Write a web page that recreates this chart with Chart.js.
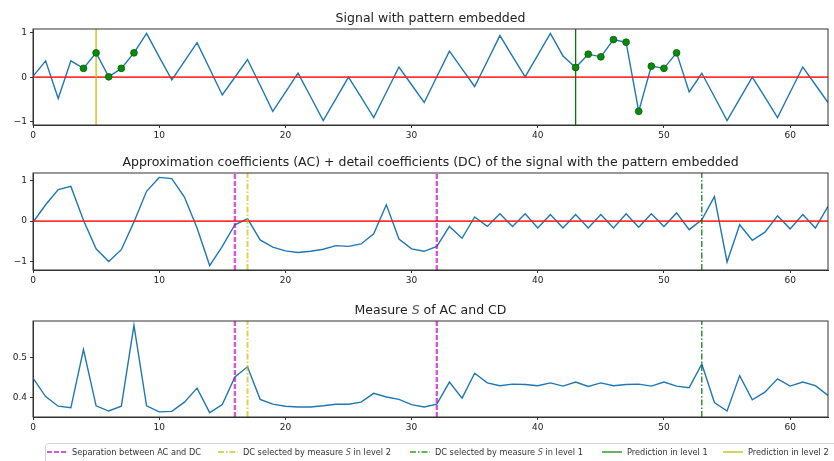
<!DOCTYPE html>
<html>
<head>
<meta charset="utf-8">
<script src="https://cdn.jsdelivr.net/npm/chart.js@4.4.1/dist/chart.umd.min.js"></script>
<style>
  html, body { margin: 0; padding: 0; background: #fff; }
  #wrap { position: relative; width: 834px; height: 461px; overflow: hidden; }
  #wrap canvas { position: absolute; left: 0; }
</style>
</head>
<body>
<div id="wrap">
  <canvas id="c1" width="834" height="145" style="top:0px"></canvas>
  <canvas id="c2" width="834" height="148" style="top:145px"></canvas>
  <canvas id="c3" width="834" height="168" style="top:293px"></canvas>
</div>
<script>
// ---- data ----
const sampleIndex = Array.from({ length: 64 }, (_, i) => i);

const signal = [
  0.02, 0.37, -0.48, 0.37, 0.20, 0.55, 0.01, 0.20, 0.55, 0.99,
  0.46, -0.06, 0.36, 0.78, 0.19, -0.40, 0.00, 0.40, -0.18, -0.77,
  -0.34, 0.09, -0.44, -0.98, -0.49, 0.00, -0.45, -0.91, -0.34, 0.23,
  -0.17, -0.57, 0.01, 0.59, 0.19, -0.21, 0.36, 0.94, 0.47, 0.01,
  0.50, 0.99, 0.48, 0.22, 0.52, 0.46, 0.85, 0.79, -0.77, 0.25,
  0.20, 0.55, -0.33, 0.09, -0.44, -0.98, -0.49, 0.00, -0.45, -0.91,
  -0.34, 0.23, -0.17, -0.57
];

// samples belonging to the embedded pattern
const patternIdx = [4, 5, 6, 7, 8, 43, 44, 45, 46, 47, 48, 49, 50, 51];

const coeffs = [
  -0.03, 0.40, 0.77, 0.85, 0.02, -0.68, -0.99, -0.70, -0.02, 0.73,
  1.07, 1.04, 0.59, -0.17, -1.09, -0.62, -0.09, 0.06, -0.46, -0.64,
  -0.73, -0.77, -0.74, -0.69, -0.60, -0.62, -0.56, -0.31, 0.40, -0.44,
  -0.68, -0.74, -0.62, -0.13, -0.42, 0.10, -0.13, 0.18, -0.13, 0.18,
  -0.17, 0.16, -0.17, 0.16, -0.17, 0.16, -0.17, 0.18, -0.15, 0.18,
  -0.13, 0.20, -0.21, 0.03, 0.60, -1.00, -0.09, -0.47, -0.27, 0.13,
  -0.19, 0.16, -0.17, 0.36
];

const measureS = [
  0.449, 0.403, 0.379, 0.375, 0.520, 0.380, 0.367, 0.379, 0.580, 0.380,
  0.365, 0.366, 0.389, 0.424, 0.363, 0.383, 0.452, 0.477, 0.396, 0.384,
  0.379, 0.377, 0.377, 0.380, 0.384, 0.384, 0.389, 0.411, 0.402, 0.396,
  0.383, 0.377, 0.384, 0.439, 0.399, 0.461, 0.437, 0.430, 0.434, 0.433,
  0.430, 0.437, 0.429, 0.439, 0.428, 0.437, 0.430, 0.433, 0.434, 0.429,
  0.439, 0.429, 0.425, 0.484, 0.388, 0.367, 0.455, 0.395, 0.414, 0.447,
  0.429, 0.439, 0.430, 0.406
];

const xTicks = [0, 10, 20, 30, 40, 50, 60];
const yTicksSignal = [-1, 0, 1];
const yTicksCoeffs = [-1, 0, 1];
const yTicksMeasure = [0.4, 0.5];

const predLevel1 = [43];
const predLevel2 = [5];
const sepAcDc = [16, 32];
const selLevel2 = [17];
const selLevel1 = [53];

const legendLabels = [
  [{ t: 'Separation between AC and DC' }],
  [{ t: 'DC selected by measure ' }, { t: 'S', it: true }, { t: ' in level 2' }],
  [{ t: 'DC selected by measure ' }, { t: 'S', it: true }, { t: ' in level 1' }],
  [{ t: 'Prediction in level 1' }],
  [{ t: 'Prediction in level 2' }]
];

// ---- styling ----
const FONT = '"DejaVu Sans", "Liberation Sans", sans-serif';
const BLUE = '#1f77b4';
const RED = 'rgba(255,20,20,0.85)';
const AXIS = '#333';
const MAGENTA = 'rgba(191,0,191,0.65)';
const YELLOW_SOFT = 'rgba(191,191,0,0.65)';
const YELLOW = '#c4c400';
const GREEN = '#007a00';
const GREEN_SOFT = 'rgba(0,128,0,0.6)';
const DASH = [5, 2];
const DASHDOT = [6, 2, 1.5, 2];

const fmt = v => String(Math.round(v * 1000) / 1000).replace('-', '\u2212');

function limits(values) {
  const lo = Math.min(...values), hi = Math.max(...values);
  const pad = (hi - lo) * 0.05;
  return [lo - pad, hi + pad];
}

function drawParts(ctx, parts, x, y, size, align, color) {
  const w = parts.map(p => {
    ctx.font = (p.it ? 'italic ' : '') + size + 'px ' + FONT;
    return ctx.measureText(p.t).width;
  });
  const total = w.reduce((a, b) => a + b, 0);
  let cx = align === 'center' ? x - total / 2 : x;
  parts.forEach((p, i) => {
    ctx.font = (p.it ? 'italic ' : '') + size + 'px ' + FONT;
    ctx.fillStyle = p.it ? '#555' : color;
    ctx.textAlign = 'left';
    ctx.fillText(p.t, cx, y);
    cx += w[i];
  });
}

function framePlugin(titleParts) {
  return {
    id: 'panelFrame',
    afterDraw(chart) {
      const { ctx, chartArea: a } = chart;
      ctx.save();
      ctx.strokeStyle = AXIS;
      ctx.lineWidth = 1;
      ctx.strokeRect(a.left, a.top, a.right - a.left, a.bottom - a.top);
      ctx.textBaseline = 'alphabetic';
      drawParts(ctx, titleParts, (a.left + a.right) / 2, a.top - 7, 12.5, 'center', '#222');
      ctx.restore();
    }
  };
}

const legendHandles = [
  { color: MAGENTA, dash: DASH, w: 2.2 },
  { color: YELLOW_SOFT, dash: DASHDOT, w: 2 },
  { color: GREEN_SOFT, dash: DASHDOT, w: 2 },
  { color: GREEN_SOFT, dash: [], w: 2 },
  { color: YELLOW_SOFT, dash: [], w: 2 }
];
const legendTextX = [72, 243, 435, 627, 748];

const legendPlugin = {
  id: 'bottomLegend',
  afterDraw(chart) {
    const ctx = chart.ctx;
    const top = 150, cy = 159;
    ctx.save();
    ctx.strokeStyle = '#d4d4d4';
    ctx.lineWidth = 1;
    ctx.beginPath();
    ctx.roundRect(45.5, top + 0.5, 800, 30, 3);
    ctx.stroke();
    legendLabels.forEach((parts, i) => {
      const h = legendHandles[i];
      const tx = legendTextX[i];
      ctx.strokeStyle = h.color;
      ctx.lineWidth = h.w;
      ctx.setLineDash(h.dash);
      ctx.beginPath();
      ctx.moveTo(tx - 25, cy);
      ctx.lineTo(tx - 5, cy);
      ctx.stroke();
      ctx.setLineDash([]);
      ctx.textBaseline = 'middle';
      drawParts(ctx, parts, tx, cy + 0.5, 8.2, 'left', '#333');
    });
    ctx.restore();
  }
};

function vline(x, lim, color, dash, width, order) {
  return {
    type: 'line',
    data: [{ x: x, y: lim[0] }, { x: x, y: lim[1] }],
    borderColor: color,
    borderWidth: width,
    borderDash: dash,
    pointRadius: 0,
    order: order
  };
}

function makePanel(id, cfg) {
  const lim = cfg.lim;
  const xMin = sampleIndex[0], xMax = sampleIndex[sampleIndex.length - 1];
  const datasets = [
    {
      type: 'line',
      data: cfg.series.map((v, i) => ({ x: sampleIndex[i], y: v })),
      borderColor: BLUE, borderWidth: 1.4, pointRadius: 0, tension: 0, order: 5
    },
    {
      type: 'line',
      data: [{ x: xMin, y: 0 }, { x: xMax, y: 0 }],
      borderColor: RED, borderWidth: 1.8, pointRadius: 0, order: 4
    }
  ].concat(cfg.extra(lim));

  const plugins = [framePlugin(cfg.title)];
  if (cfg.legend) plugins.push(legendPlugin);

  return new Chart(document.getElementById(id), {
    type: 'line',
    data: { datasets },
    options: {
      responsive: false,
      animation: false,
      events: [],
      devicePixelRatio: 1,
      layout: { padding: { left: 0, right: 6, top: cfg.padTop, bottom: 0 } },
      plugins: { legend: { display: false }, tooltip: { enabled: false }, title: { display: false } },
      scales: {
        x: {
          type: 'linear', min: xMin, max: xMax,
          afterBuildTicks: s => { s.ticks = xTicks.map(v => ({ value: v })); },
          afterFit: s => { s.height = cfg.xAxisH; },
          grid: { display: true, drawOnChartArea: false, drawTicks: true, tickLength: 3, tickColor: AXIS, tickWidth: 1 },
          border: { display: true, color: AXIS, width: 1 },
          ticks: { font: { family: FONT, size: 9 }, color: '#222', padding: 2, maxRotation: 0, autoSkip: false, callback: v => fmt(v) }
        },
        y: {
          type: 'linear', min: lim[0], max: lim[1],
          afterBuildTicks: s => { s.ticks = cfg.yTicks.map(v => ({ value: v })); },
          afterFit: s => { s.width = 33; },
          grid: { display: true, drawOnChartArea: false, drawTicks: true, tickLength: 3, tickColor: AXIS, tickWidth: 1 },
          border: { display: true, color: AXIS, width: 1 },
          ticks: { font: { family: FONT, size: 9 }, color: '#222', padding: 3, autoSkip: false, callback: v => fmt(v) }
        }
      }
    },
    plugins
  });
}

// Signal with the pattern and the predicted positions
const limSignal = limits(signal);
makePanel('c1', {
  title: [{ t: 'Signal with pattern embedded' }],
  series: signal, lim: limSignal, yTicks: yTicksSignal, padTop: 29, xAxisH: 20,
  extra: lim => [
    {
      type: 'scatter',
      data: patternIdx.map(i => ({ x: sampleIndex[i], y: signal[i] })),
      backgroundColor: '#0a8a0a', borderColor: '#006400', borderWidth: 0.8,
      pointRadius: 3.4, showLine: false, order: 0
    }
  ].concat(
    predLevel2.map(x => vline(x, lim, YELLOW, [], 1.3, 2)),
    predLevel1.map(x => vline(x, lim, GREEN, [], 1.3, 2))
  )
});

// Wavelet coefficients
const limCoeffs = limits(coeffs);
const markers = lim => [].concat(
  sepAcDc.map(x => vline(x, lim, MAGENTA, DASH, 2.4, 1)),
  selLevel2.map(x => vline(x, lim, YELLOW_SOFT, DASHDOT, 2, 1)),
  selLevel1.map(x => vline(x, lim, GREEN, DASHDOT, 1.2, 1))
);
makePanel('c2', {
  title: [{ t: 'Approximation coefficients (AC) + detail coefficients (DC) of the signal with the pattern embedded' }],
  series: coeffs, lim: limCoeffs, yTicks: yTicksCoeffs, padTop: 28, xAxisH: 23,
  extra: markers
});

// Measure S
const limMeasure = limits(measureS);
makePanel('c3', {
  title: [{ t: 'Measure ' }, { t: 'S', it: true }, { t: ' of AC and CD' }],
  series: measureS, lim: limMeasure, yTicks: yTicksMeasure, padTop: 28, xAxisH: 44,
  legend: true,
  extra: markers
});
</script>
</body>
</html>
